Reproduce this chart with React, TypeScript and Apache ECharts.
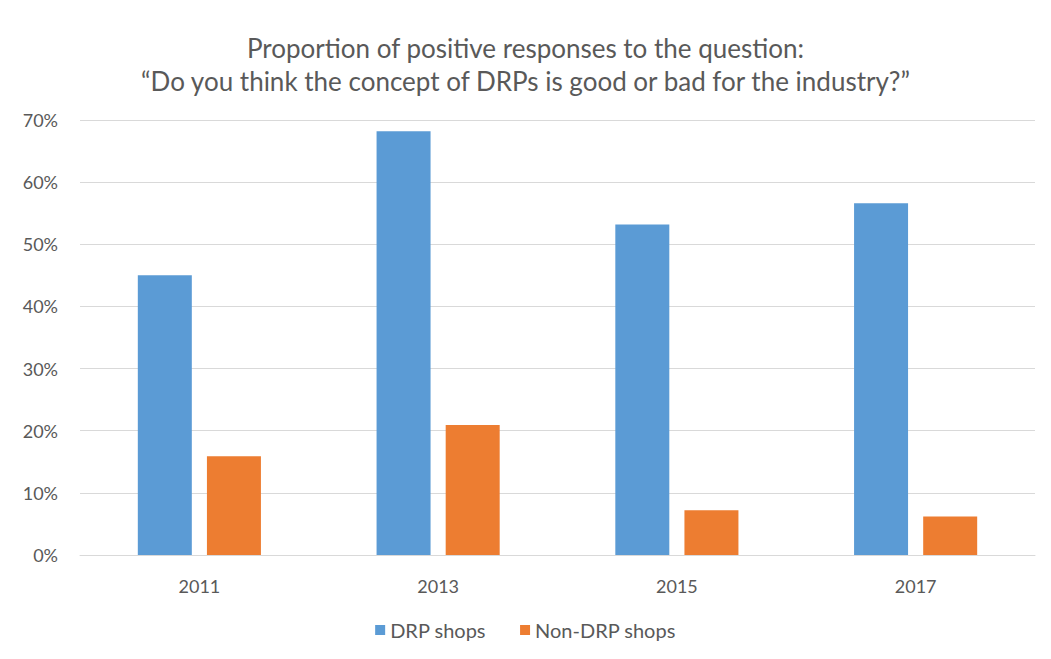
import React, { useEffect, useRef } from "react";
import * as echarts from "echarts";

const categories = ["2011", "2013", "2015", "2017"];
const drpShops = [45, 68.2, 53.2, 56.6];
const nonDrpShops = [15.9, 20.9, 7.2, 6.2];
const seriesNames = ["DRP shops", "Non-DRP shops"];
const titleLines = [
  "Proportion of positive responses to the question:",
  "\u201CDo you think the concept of DRPs is good or bad for the industry?\u201D",
];

export default function App() {
  const ref = useRef<HTMLDivElement>(null);
  useEffect(() => {
    if (!ref.current) return;
    const chart = echarts.init(ref.current, null, { renderer: "svg" });
    const font = "Lato, 'Open Sans', sans-serif";
    chart.setOption({
      animation: false,
      backgroundColor: "#ffffff",
      textStyle: { fontFamily: font },
      title: {
        text: titleLines.join("\n"),
        left: "center",
        top: 26,
        padding: [5, 0, 5, 20],
        textStyle: {
          fontFamily: font,
          fontSize: 26,
          fontWeight: "normal",
          color: "#595959",
          lineHeight: 33,
          align: "center",
        },
      },
      legend: {
        bottom: 14,
        left: "center",
        padding: [5, 0, 5, 24],
        itemWidth: 10,
        itemHeight: 10,
        itemGap: 34,
        icon: "rect",
        textStyle: { fontFamily: font, fontSize: 20, color: "#595959" },
        data: seriesNames,
      },
      grid: { left: 80, right: 16, top: 120, bottom: 104, containLabel: false },
      xAxis: {
        type: "category",
        data: categories,
        axisLine: { lineStyle: { color: "#d9d9d9", width: 1 } },
        axisTick: { show: false },
        axisLabel: { fontFamily: font, fontSize: 18, color: "#595959", margin: 22 },
      },
      yAxis: {
        type: "value",
        min: 0,
        max: 70,
        interval: 10,
        axisLine: { show: false },
        axisTick: { show: false },
        splitLine: { lineStyle: { color: "#d9d9d9", width: 1 } },
        axisLabel: {
          fontFamily: font,
          fontSize: 18,
          color: "#595959",
          margin: 22,
          formatter: (v: number) => `${v}%`,
        },
      },
      series: [
        {
          name: seriesNames[0],
          type: "bar",
          data: drpShops,
          barWidth: 54,
          barGap: "28%",
          itemStyle: { color: "#5b9bd5" },
        },
        {
          name: seriesNames[1],
          type: "bar",
          data: nonDrpShops,
          barWidth: 54,
          itemStyle: { color: "#ed7d31" },
        },
      ],
    });
    return () => chart.dispose();
  }, []);
  return (
    <div
      ref={ref}
      style={{ position: "fixed", left: 0, top: 0, width: 1051, height: 659 }}
    />
  );
}
